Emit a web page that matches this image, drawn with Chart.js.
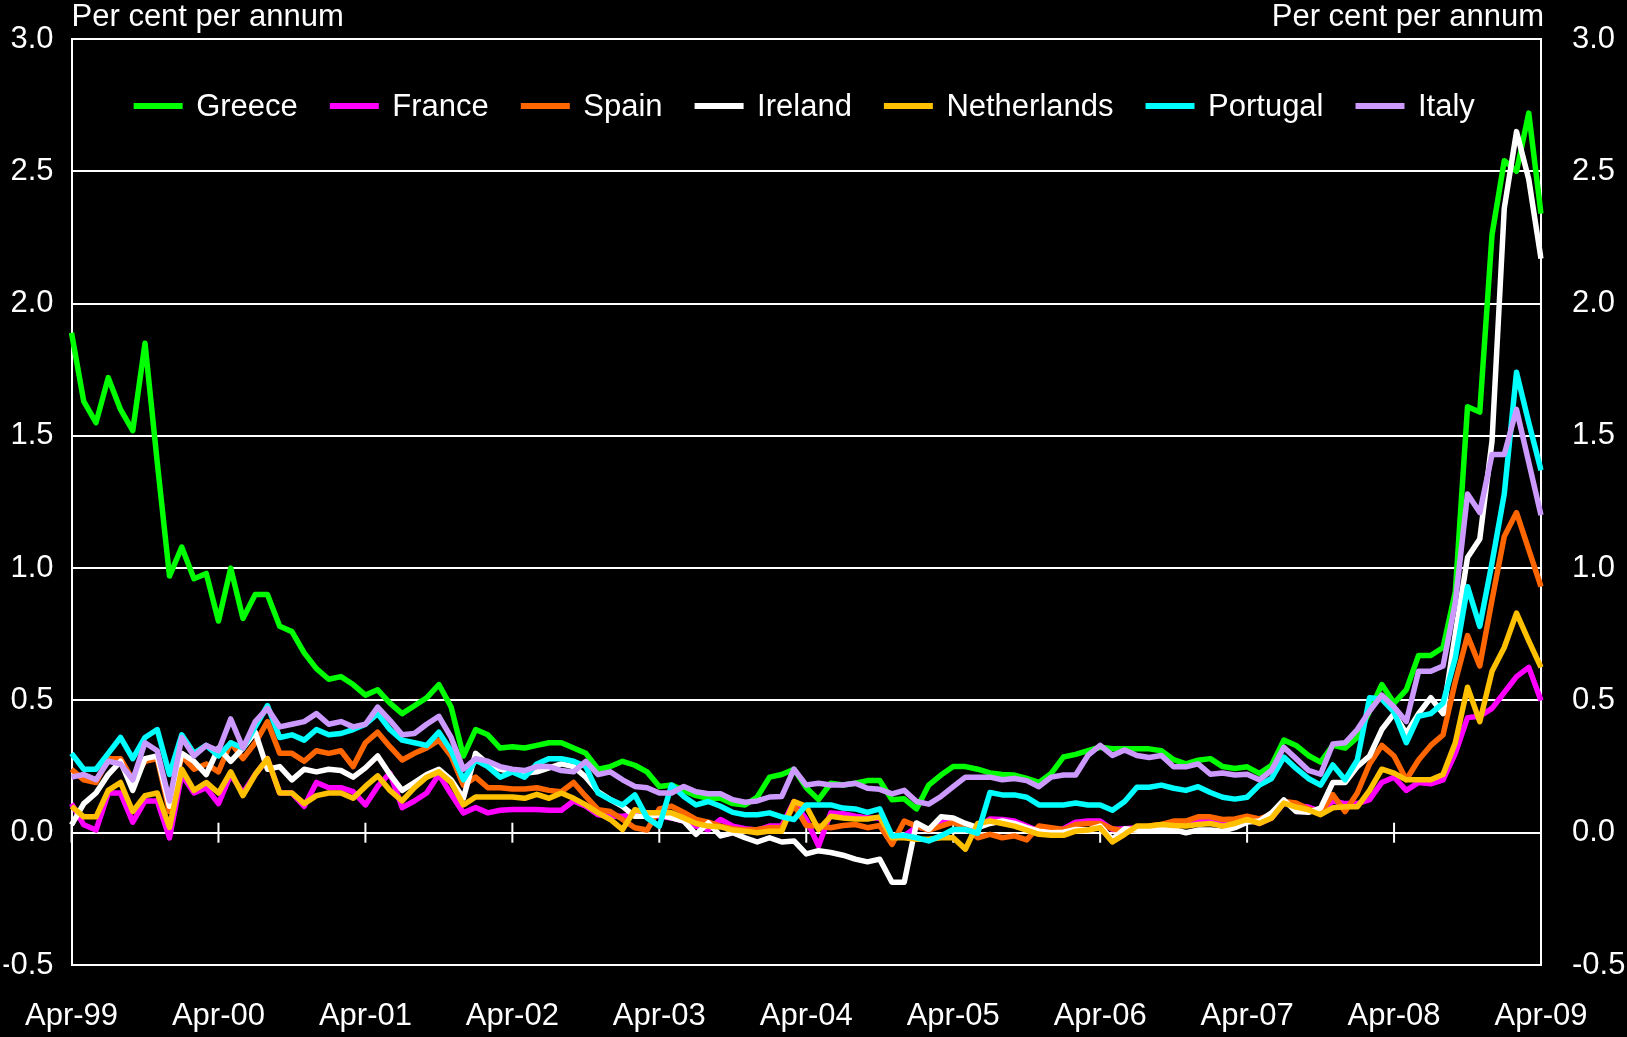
<!DOCTYPE html>
<html>
<head>
<meta charset="utf-8">
<title>Government bond spreads to Germany</title>
<script src="https://cdn.jsdelivr.net/npm/chart.js@4.4.1/dist/chart.umd.min.js"></script>
<style>
  html, body { margin: 0; padding: 0; background: #000; }
  #wrap { width: 1627px; height: 1037px; }
</style>
</head>
<body>
<div id="wrap"><canvas id="spreadChart" width="1627" height="1037"></canvas></div>
<script>
// CATEGORIES (monthly, Apr-99 .. Apr-09)
const MONTH_NAMES = ['Jan','Feb','Mar','Apr','May','Jun','Jul','Aug','Sep','Oct','Nov','Dec'];
const categories = [];
for (let yr = 1999; yr <= 2009; yr++) {
  for (let m = 0; m < 12; m++) {
    if (yr === 1999 && m < 3) continue;
    if (yr === 2009 && m > 3) break;
    categories.push(MONTH_NAMES[m] + '-' + String(yr).slice(2));
  }
}
const tickLabels = ['Apr-99','Apr-00','Apr-01','Apr-02','Apr-03','Apr-04','Apr-05','Apr-06','Apr-07','Apr-08','Apr-09'];
const yTickValues = [-0.5, 0, 0.5, 1.0, 1.5, 2.0, 2.5, 3.0];

// SERIES (per cent per annum), one row per calendar year
const greece = [
  1.89,1.63,1.55,1.72,1.60,1.52,1.85,1.40,0.97,
  1.08,0.96,0.98,0.80,1.00,0.81,0.90,0.90,0.78,0.76,0.68,0.62,
  0.58,0.59,0.56,0.52,0.54,0.49,0.45,0.48,0.51,0.56,0.475,0.29,
  0.39,0.37,0.32,0.325,0.32,0.33,0.34,0.34,0.32,0.30,0.24,0.25,
  0.27,0.255,0.23,0.175,0.18,0.16,0.14,0.13,0.13,0.11,0.105,0.135,
  0.21,0.22,0.24,0.17,0.125,0.187,0.18,0.187,0.197,0.197,0.125,0.128,
  0.09,0.18,0.218,0.25,0.25,0.24,0.226,0.22,0.218,0.205,0.19,0.224,
  0.286,0.296,0.31,0.323,0.317,0.317,0.317,0.317,0.31,0.276,0.26,0.274,
  0.28,0.25,0.243,0.249,0.224,0.255,0.35,0.33,0.292,0.267,0.33,0.32,
  0.36,0.46,0.56,0.49,0.54,0.67,0.67,0.70,0.91,1.61,1.59,2.26,
  2.54,2.50,2.72,2.34
];
const france = [
  0.11,0.03,0.01,0.15,0.15,0.04,0.12,0.12,-0.02,
  0.22,0.15,0.17,0.11,0.22,0.15,0.22,0.28,0.15,0.15,0.10,0.19,
  0.17,0.17,0.155,0.105,0.175,0.225,0.095,0.12,0.15,0.22,0.145,0.075,
  0.095,0.075,0.085,0.0875,0.0875,0.0875,0.085,0.085,0.12,0.10,0.068,0.062,
  0.062,0.068,0.068,0.062,0.056,0.044,0.025,0.012,0.05,0.025,0.015,0.01,
  0.025,0.025,0.118,0.05,-0.05,0.075,0.072,0.062,0.056,0.056,-0.019,-0.012,
  0.022,0.012,0.037,0.044,0.025,0.019,0.052,0.05,0.044,0.025,0.006,0.006,
  0.015,0.04,0.044,0.044,0.012,0.015,0.019,0.019,0.025,0.027,0.035,0.044,
  0.044,0.035,0.035,0.052,0.035,0.056,0.112,0.102,0.097,0.08,0.12,0.11,
  0.11,0.125,0.19,0.21,0.16,0.19,0.185,0.20,0.30,0.435,0.44,0.47,
  0.53,0.59,0.625,0.50
];
const spain = [
  0.24,0.20,0.19,0.28,0.28,0.20,0.27,0.28,0.08,
  0.29,0.24,0.26,0.23,0.34,0.28,0.34,0.42,0.30,0.30,0.27,0.31,
  0.30,0.31,0.25,0.34,0.38,0.325,0.275,0.30,0.32,0.35,0.29,0.18,
  0.21,0.17,0.17,0.165,0.165,0.17,0.16,0.155,0.19,0.137,0.087,0.08,
  0.05,0.019,0.01,0.09,0.10,0.077,0.05,0.04,0.025,0.015,0.01,0.012,
  0.019,0.019,0.105,0.027,0.025,0.019,0.027,0.031,0.019,0.027,-0.044,0.044,
  0.025,0.01,0.025,0.04,0.019,-0.019,-0.006,-0.019,-0.012,-0.027,0.025,0.019,
  0.012,0.031,0.035,0.035,0.015,0.006,0.012,0.025,0.031,0.044,0.044,0.06,
  0.06,0.05,0.052,0.062,0.052,0.068,0.118,0.112,0.09,0.075,0.144,0.08,
  0.15,0.26,0.33,0.29,0.20,0.275,0.33,0.37,0.57,0.745,0.63,0.88,
  1.12,1.21,1.07,0.93
];
const ireland = [
  0.03,0.11,0.15,0.22,0.27,0.16,0.28,0.29,0.10,
  0.30,0.27,0.22,0.32,0.27,0.32,0.38,0.24,0.25,0.20,0.24,0.23,
  0.24,0.235,0.21,0.245,0.29,0.22,0.16,0.19,0.22,0.24,0.20,0.13,
  0.30,0.26,0.24,0.23,0.225,0.23,0.245,0.26,0.25,0.21,0.155,0.125,
  0.10,0.062,0.062,0.068,0.056,0.044,-0.006,0.037,-0.012,0.0,-0.019,-0.035,
  -0.019,-0.035,-0.031,-0.08,-0.068,-0.075,-0.085,-0.10,-0.11,-0.10,-0.187,-0.187,
  0.037,0.012,0.06,0.056,0.035,0.019,0.035,0.044,0.035,0.019,0.006,0.0,
  0.002,0.012,0.01,0.025,-0.025,0.015,0.01,0.012,0.012,0.012,0.0,0.01,
  0.01,0.006,0.019,0.04,0.044,0.075,0.124,0.08,0.077,0.093,0.19,0.19,
  0.25,0.29,0.39,0.45,0.375,0.45,0.51,0.45,0.75,1.04,1.11,1.48,
  2.36,2.65,2.47,2.17
];
const netherlands = [
  0.10,0.06,0.06,0.16,0.19,0.08,0.14,0.15,0.02,
  0.24,0.16,0.19,0.15,0.23,0.14,0.22,0.28,0.15,0.15,0.11,0.14,
  0.15,0.15,0.13,0.175,0.215,0.16,0.12,0.17,0.21,0.23,0.19,0.105,
  0.135,0.135,0.135,0.135,0.13,0.145,0.13,0.15,0.13,0.105,0.075,0.05,
  0.012,0.087,0.075,0.075,0.075,0.056,0.035,0.025,0.022,0.01,0.006,0.0,
  0.006,0.006,0.118,0.10,0.012,0.062,0.056,0.052,0.052,0.06,-0.019,-0.019,
  -0.025,-0.025,-0.019,-0.019,-0.062,0.035,0.044,0.035,0.025,0.01,-0.006,-0.01,
  -0.01,0.006,0.01,0.019,-0.035,-0.006,0.025,0.025,0.031,0.027,0.025,0.031,
  0.035,0.025,0.035,0.05,0.035,0.056,0.112,0.097,0.087,0.068,0.094,0.098,
  0.098,0.16,0.24,0.225,0.20,0.20,0.20,0.22,0.34,0.55,0.42,0.61,
  0.70,0.83,0.725,0.625
];
const portugal = [
  0.30,0.24,0.24,0.30,0.36,0.28,0.36,0.39,0.22,
  0.37,0.30,0.33,0.29,0.34,0.32,0.40,0.48,0.36,0.37,0.35,0.39,
  0.37,0.375,0.39,0.41,0.45,0.39,0.35,0.34,0.33,0.38,0.31,0.20,
  0.275,0.25,0.21,0.23,0.21,0.26,0.28,0.28,0.27,0.25,0.15,0.125,
  0.105,0.143,0.056,0.025,0.18,0.137,0.105,0.118,0.10,0.077,0.068,0.068,
  0.075,0.06,0.05,0.105,0.105,0.105,0.093,0.09,0.077,0.09,-0.012,-0.01,
  -0.019,-0.031,-0.012,0.012,0.012,-0.002,0.152,0.143,0.143,0.134,0.105,0.105,
  0.105,0.112,0.105,0.105,0.085,0.118,0.172,0.172,0.18,0.168,0.16,0.174,
  0.152,0.134,0.127,0.134,0.18,0.205,0.286,0.243,0.205,0.18,0.256,0.20,
  0.275,0.51,0.505,0.456,0.34,0.44,0.45,0.49,0.66,0.93,0.78,1.02,
  1.28,1.74,1.55,1.37
];
const italy = [
  0.21,0.22,0.20,0.27,0.26,0.20,0.34,0.31,0.12,
  0.36,0.29,0.33,0.31,0.43,0.32,0.42,0.47,0.40,0.41,0.42,0.45,
  0.41,0.42,0.40,0.41,0.475,0.425,0.37,0.375,0.41,0.44,0.36,0.24,
  0.28,0.27,0.25,0.24,0.235,0.25,0.25,0.235,0.23,0.27,0.22,0.23,
  0.20,0.175,0.17,0.15,0.15,0.175,0.155,0.147,0.147,0.125,0.115,0.12,
  0.135,0.137,0.24,0.18,0.187,0.18,0.18,0.187,0.168,0.164,0.147,0.16,
  0.118,0.108,0.137,0.174,0.21,0.21,0.21,0.2,0.205,0.197,0.174,0.21,
  0.218,0.218,0.292,0.33,0.292,0.313,0.292,0.284,0.292,0.249,0.249,0.26,
  0.221,0.226,0.218,0.221,0.2,0.236,0.323,0.28,0.236,0.221,0.335,0.34,
  0.39,0.46,0.52,0.475,0.42,0.61,0.61,0.63,0.87,1.28,1.21,1.43,
  1.43,1.60,1.40,1.20
];

const seriesNames = ['Greece', 'France', 'Spain', 'Ireland', 'Netherlands', 'Portugal', 'Italy'];
const seriesValues = [greece, france, spain, ireland, netherlands, portugal, italy];
const seriesColors = ['#00ff00', '#ff00ff', '#ff6600', '#ffffff', '#ffc000', '#00ffff', '#cc99ff'];

const FONT = 'Arial, "Liberation Sans", sans-serif';
Chart.defaults.font.family = FONT;
Chart.defaults.font.size = 31;
Chart.defaults.color = '#ffffff';

// small ticks across the zero line at each April
const zeroTicks = {
  id: 'zeroTicks',
  beforeDatasetsDraw(chart) {
    const { ctx, scales: { x, y } } = chart;
    const y0 = y.getPixelForValue(0);
    ctx.save();
    ctx.strokeStyle = '#ffffff';
    ctx.lineWidth = 2;
    categories.forEach((c, i) => {
      if (!tickLabels.includes(c)) return;
      const px = x.getPixelForValue(i);
      ctx.beginPath();
      ctx.moveTo(px, y0 - 10);
      ctx.lineTo(px, y0 + 10);
      ctx.stroke();
    });
    ctx.restore();
  }
};

// "Per cent per annum" over both axes
const axisTitles = {
  id: 'axisTitles',
  afterDraw(chart) {
    const { ctx, chartArea } = chart;
    ctx.save();
    ctx.font = '31px ' + FONT;
    ctx.fillStyle = '#ffffff';
    ctx.textBaseline = 'middle';
    ctx.textAlign = 'left';
    ctx.fillText('Per cent per annum', chartArea.left, 17);
    ctx.textAlign = 'right';
    ctx.fillText('Per cent per annum', chartArea.right + 3, 17);
    ctx.restore();
  }
};

// legend row inside the plot, line swatches
const lineLegend = {
  id: 'lineLegend',
  afterDraw(chart) {
    const { ctx, chartArea } = chart;
    const sets = chart.data.datasets;
    const swatch = 49, gapText = 13.5, gapItem = 32;
    ctx.save();
    ctx.font = '31px ' + FONT;
    ctx.textBaseline = 'middle';
    ctx.textAlign = 'left';
    let total = 0;
    sets.forEach((ds, i) => {
      total += swatch + gapText + ctx.measureText(ds.label).width;
      if (i < sets.length - 1) total += gapItem;
    });
    let x = (chartArea.left + chartArea.right) / 2 - total / 2 - 2;
    const y = chartArea.top + 67;
    sets.forEach(ds => {
      ctx.strokeStyle = ds.borderColor;
      ctx.lineWidth = 6;
      ctx.beginPath();
      ctx.moveTo(x, y);
      ctx.lineTo(x + swatch, y);
      ctx.stroke();
      x += swatch + gapText;
      ctx.fillStyle = '#ffffff';
      ctx.fillText(ds.label, x, y + 1);
      x += ctx.measureText(ds.label).width + gapItem;
    });
    ctx.restore();
  }
};

const yTickFmt = v => Number(v).toFixed(1);

// keep the label overhang of the value axes from pushing the plot down
const fixValueAxis = w => s => { s.width = w; s.paddingTop = 0; s.paddingBottom = 0; };

const chart = new Chart(document.getElementById('spreadChart'), {
  type: 'line',
  data: {
    labels: categories,
    datasets: seriesNames.map((name, i) => ({
      label: name,
      data: seriesValues[i],
      borderColor: seriesColors[i],
      backgroundColor: seriesColors[i],
      borderWidth: 5.5,
      borderJoinStyle: 'round',
      pointRadius: 0,
      tension: 0,
      order: seriesNames.length - i
    }))
  },
  options: {
    responsive: false,
    devicePixelRatio: 1,
    animation: false,
    layout: { padding: { top: 39, left: 0, right: 0, bottom: 0 } },
    plugins: { legend: { display: false }, tooltip: { enabled: false } },
    scales: {
      x: {
        grid: { display: false },
        border: { display: false },
        ticks: {
          autoSkip: false,
          maxRotation: 0,
          padding: 25,
          callback: (v, i) => tickLabels.includes(categories[i]) ? categories[i] : ''
        },
        afterFit: s => { s.height = 72; }
      },
      y: {
        position: 'left',
        min: yTickValues[0],
        max: yTickValues[yTickValues.length - 1],
        ticks: { stepSize: 0.5, padding: 18, callback: yTickFmt },
        grid: { color: '#ffffff', lineWidth: 2, drawTicks: false },
        border: { display: true, color: '#ffffff', width: 2 },
        afterFit: fixValueAxis(68)
      },
      y2: {
        position: 'right',
        min: yTickValues[0],
        max: yTickValues[yTickValues.length - 1],
        ticks: { stepSize: 0.5, padding: 31, callback: yTickFmt },
        grid: { drawOnChartArea: false, drawTicks: false },
        border: { display: true, color: '#ffffff', width: 2 },
        afterFit: fixValueAxis(86)
      }
    }
  },
  plugins: [zeroTicks, axisTitles, lineLegend]
});
</script>
</body>
</html>
